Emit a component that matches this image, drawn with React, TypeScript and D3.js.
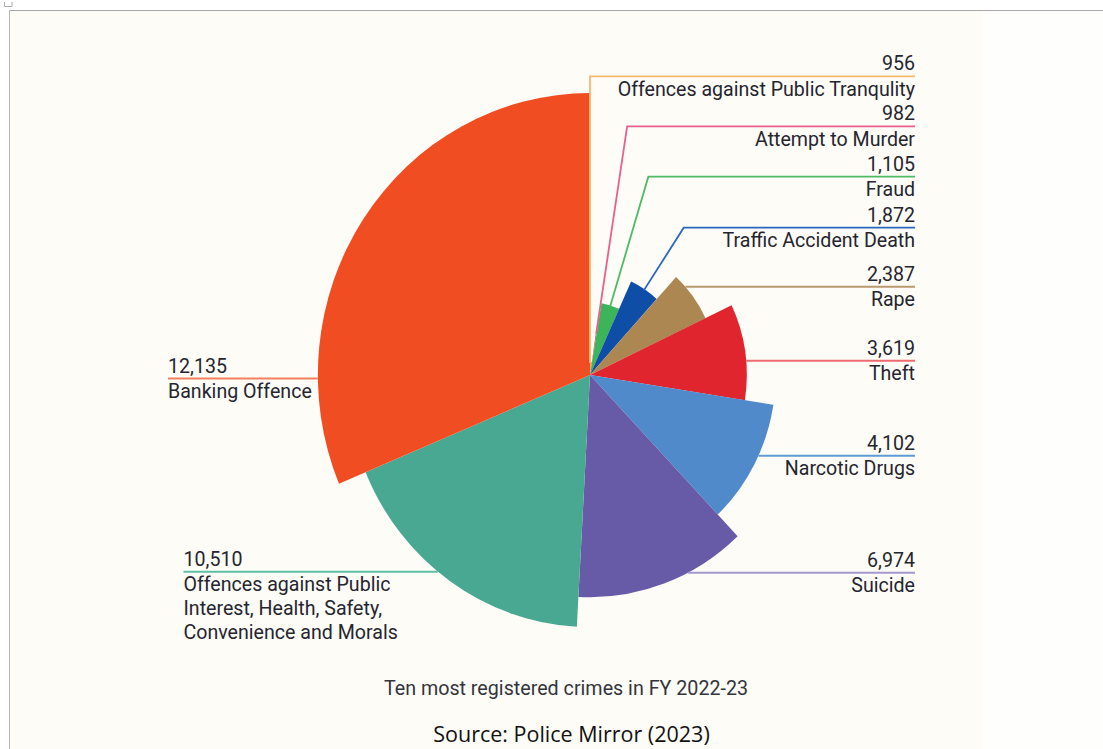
import React from "react";
import * as d3 from "d3";

// ---------- data ----------
const categories = [
  "Offences against Public Tranqulity",
  "Attempt to Murder",
  "Fraud",
  "Traffic Accident Death",
  "Rape",
  "Theft",
  "Narcotic Drugs",
  "Suicide",
  "Offences against Public Interest, Health, Safety, Convenience and Morals",
  "Banking Offence",
];
const values = [956, 982, 1105, 1872, 2387, 3619, 4102, 6974, 10510, 12135];
// angular share of each slice as drawn in the picture (degrees)
const angleShares = [8.2, 1.2, 15.1, 17.8, 22.3, 34.3, 37.6, 46.6, 64.2, 112.7];
const labelLines = [
  ["Offences against Public Tranqulity"],
  ["Attempt to Murder"],
  ["Fraud"],
  ["Traffic Accident Death"],
  ["Rape"],
  ["Theft"],
  ["Narcotic Drugs"],
  ["Suicide"],
  ["Offences against Public", "Interest, Health, Safety,", "Convenience and Morals"],
  ["Banking Offence"],
];
const title = "Ten most registered crimes in FY 2022-23";
const source = "Source: Police Mirror (2023)";

// ---------- styles / layout ----------
const sliceColors = ["#f5a54a", "#e2457c", "#3bb45a", "#0f4ea6", "#ad8752", "#e0252f", "#518acb", "#675ba7", "#49a892", "#f04e22"];
const lineColors = ["#f6b86e", "#e8608e", "#4dbb64", "#2b67c0", "#b9996e", "#ee6a70", "#5e9ad6", "#a597d0", "#5fbea6", "#f2805c"];
const CX = 590;
const CY = 375;
const SX = 0.965;
const RIGHT_X = 915;
const labelLineY = [76.3, 126.3, 176.7, 227.7, 286.7, 360.7, 455.7, 572.7, 571.7, 378.5];
const leftLabelX: Record<number, number> = { 8: 183.5, 9: 168 };
const FONT = "Roboto, 'Noto Sans', sans-serif";
const TEXT = "#25252f";
const LABEL_SIZE = 19.6;

export default function App() {
  const rScale = d3.scaleLinear().domain([0, 9]).range([13, 282]);
  const pie = d3
    .pie<number>()
    .sort(null)
    .value((_d, i) => angleShares[i]);
  const arcs = pie(values);
  const arcGen = d3.arc<d3.PieArcDatum<number>>().innerRadius(0);
  const fmt = d3.format(",");

  const toScreen = (r: number, a: number) => [CX + r * Math.sin(a) * SX, CY - r * Math.cos(a)];

  return (
    <svg
      width={1103}
      height={749}
      style={{ position: "absolute", left: 0, top: 0, background: "#ffffff" }}
    >
      <rect x={9.5} y={10.5} width={1094} height={739} fill="#fdfcf7" />
      <rect x={983} y={11} width={120} height={738} fill="#fefefd" />
      <line x1={9.5} y1={10.5} x2={1103} y2={10.5} stroke="#a8a8a8" strokeWidth={1} />
      <line x1={9.5} y1={10.5} x2={9.5} y2={749} stroke="#b5b5b5" strokeWidth={1} />
      <path d="M4.5,2 V6.5 H12 V2" fill="none" stroke="#aaa" strokeWidth={1} />

      <g transform={`translate(${CX},${CY}) scale(${SX},1)`}>
        {arcs.map((d, i) => (
          <path
            key={i}
            d={arcGen.outerRadius(rScale(i))(d) || ""}
            fill={sliceColors[i]}
          />
        ))}
      </g>

      {arcs.map((d, i) => {
        const r = rScale(i);
        const ly = labelLineY[i];
        const mid = (d.startAngle + d.endAngle) / 2;
        let line: React.ReactNode;
        let tx = RIGHT_X;
        let anchor: "end" | "start" = "end";
        if (i <= 3) {
          const a = i === 0 ? d.startAngle : mid;
          const [px, py] = toScreen(r - 1, a);
          const ex = CX + (CY - ly) * Math.tan(a) * SX;
          line = (
            <polyline
              points={`${px},${py} ${ex},${ly} ${RIGHT_X},${ly}`}
              fill="none"
              stroke={lineColors[i]}
              strokeWidth={1.8}
            />
          );
        } else if (i <= 7) {
          const dy = ly - CY;
          const x0 = CX + Math.sqrt(Math.max(0, r * r - dy * dy)) * SX;
          line = <line x1={x0} y1={ly} x2={RIGHT_X} y2={ly} stroke={lineColors[i]} strokeWidth={2} />;
        } else {
          const dy = ly - CY;
          const x0 = CX - Math.sqrt(Math.max(0, r * r - dy * dy)) * SX;
          tx = leftLabelX[i];
          anchor = "start";
          line = <line x1={tx} y1={ly} x2={x0} y2={ly} stroke={lineColors[i]} strokeWidth={2} />;
        }
        return (
          <g key={`l${i}`}>
            {line}
            <text x={tx} y={ly - 6} textAnchor={anchor} fontFamily={FONT} fontSize={LABEL_SIZE} fill={TEXT}>
              {fmt(values[i])}
            </text>
            {labelLines[i].map((t, k) => (
              <text
                key={k}
                x={tx}
                y={ly + 19.5 + k * 24}
                textAnchor={anchor}
                fontFamily={FONT}
                fontSize={LABEL_SIZE}
                fill={TEXT}
              >
                {t}
              </text>
            ))}
          </g>
        );
      })}

      <text x={566} y={695} textAnchor="middle" fontFamily={FONT} fontSize={19.7} fill="#34343c">
        {title}
      </text>
      <text x={571.5} y={742} textAnchor="middle" fontFamily="'Open Sans', 'Noto Sans', sans-serif" fontSize={21.5} fill="#111">
        {source}
      </text>
    </svg>
  );
}
